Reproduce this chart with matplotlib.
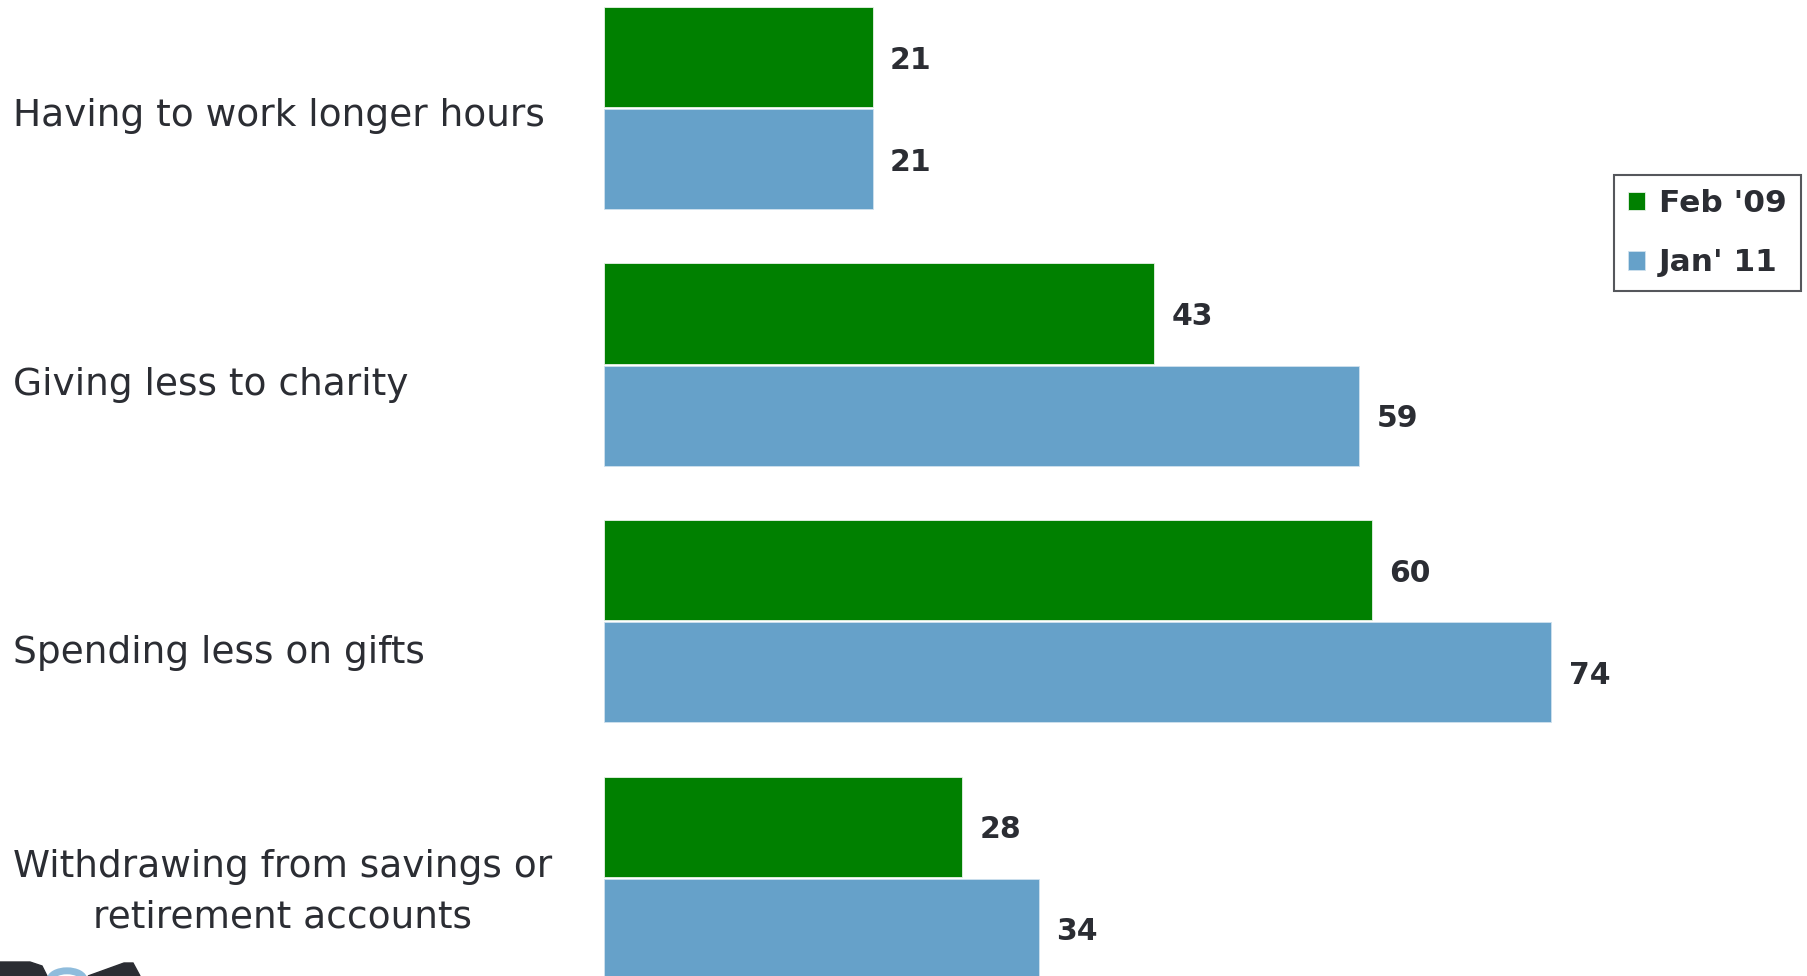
import numpy as np
import matplotlib.pyplot as plt
from matplotlib.patches import Polygon, Circle

# Dados
categories = ["Having to work longer hours",
              "Giving less to charity",
              "Spending less on gifts",
              "Withdrawing from savings or\nretirement accounts"]
feb09 = [21, 43, 60, 28]
jan11 = [21, 59, 74, 34]
series_names = ["Feb '09", "Jan' 11"]

green = "#008000"
blue = "#66a1c9"
txt = "#2b2d33"

W, H = 1808, 976
fig = plt.figure(figsize=(W / 100, H / 100), dpi=100)
ax = fig.add_axes([604 / W, 0, 1204 / W, 1])

y = np.arange(len(categories))
h = 0.39
off = 0.199

b1 = ax.barh(y - off, feb09, height=h, color=green, edgecolor="#e8f2e8", linewidth=0.6, label=series_names[0])
b2 = ax.barh(y + off, jan11, height=h, color=blue, edgecolor="#cfe1ee", linewidth=0.6, label=series_names[1])

for bars, vals in [(b1, feb09), (b2, jan11)]:
    for rect, v in zip(bars, vals):
        ax.text(v + 1.35, rect.get_y() + rect.get_height() / 2 + 0.012, str(v),
                ha="left", va="center", fontsize=21.5, fontweight="bold", color=txt)

ax.set_xlim(0, 94.06)
ax.set_ylim(3.383, -0.421)
ax.axis("off")

# Rótulos das categorias (posições em pixels da figura)
label_y = [116, 385, 653, 892]
for c, py in zip(categories, label_y):
    fig.text(13 / W, 1 - py / H, c, ha="left", va="center",
             multialignment="center", fontsize=27, color=txt, linespacing=1.5)

leg = fig.legend(handles=[b1, b2], loc="upper right", bbox_to_anchor=(1801 / W, 1 - 175 / H),
                 prop={"size": 22.5, "weight": "bold"}, frameon=True, fancybox=False,
                 handlelength=0.55, handleheight=0.55, handletextpad=0.45, borderpad=0.45,
                 labelspacing=0.97, edgecolor="#2b2d33", borderaxespad=0)
leg.get_frame().set_linewidth(1.5)
for t in leg.get_texts():
    t.set_color(txt)

# Logo cortado no canto inferior esquerdo
def px(x, yy):
    return (x / W, 1 - yy / H)

fig.patches.append(Polygon([px(0, 976), px(0, 962), px(30, 962), px(42, 966), px(47, 976)],
                           closed=True, transform=fig.transFigure, color=txt))
fig.patches.append(Circle(px(67, 980), 17 / W, transform=fig.transFigure,
                          facecolor="none", edgecolor="#8fbcdc", linewidth=5))
fig.patches.append(Polygon([px(88, 976), px(124, 963), px(133, 963), px(140, 976)],
                           closed=True, transform=fig.transFigure, color=txt))

fig.savefig("out.png", dpi=100)
